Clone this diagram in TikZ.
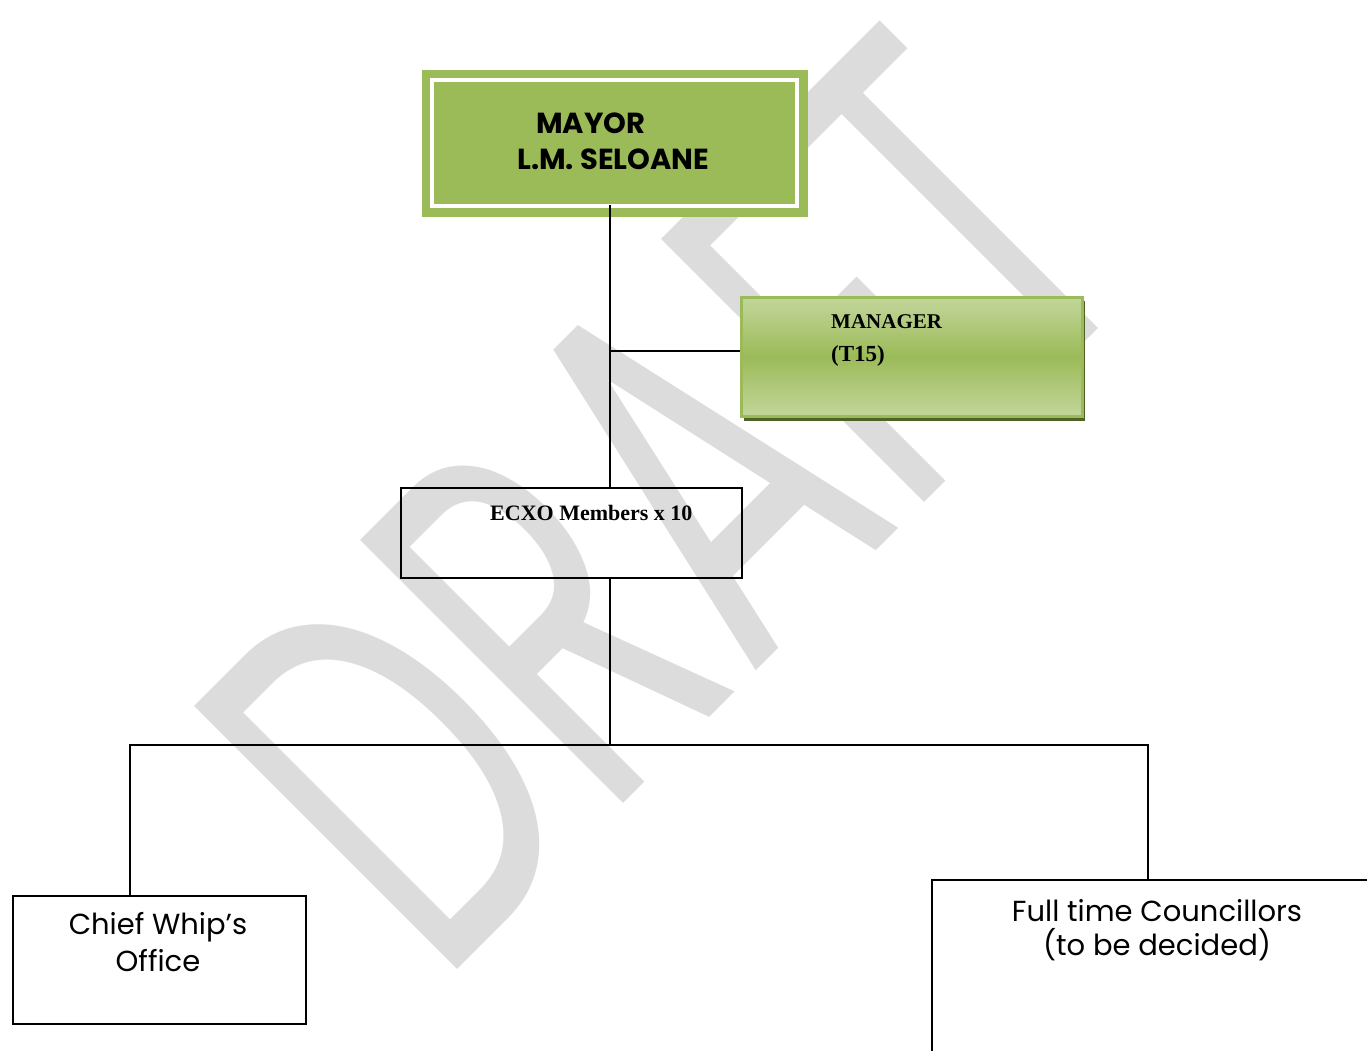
\documentclass[tikz,border=0pt]{standalone}
\usepackage{fontspec}
\newfontfamily\gothic{Poppins}
\newfontfamily\cambr{Liberation Serif}
\definecolor{accgreen}{HTML}{9BBB59}
\definecolor{lightgreen}{HTML}{C3D69B}
\definecolor{shadowgreen}{HTML}{4F6228}
\definecolor{wmgray}{HTML}{DCDCDC}
\begin{document}
\begin{tikzpicture}[x=1pt,y=-1pt,
  conn/.style={line width=2pt, black},
  plainbox/.style={draw=black, line width=2.4pt, rectangle, inner sep=0pt},
  txt/.style={inner sep=0pt},
  gothictxt/.style={txt, font=\gothic\fontsize{29}{34}\selectfont},
  mayortxt/.style={txt, font=\gothic\bfseries\fontsize{29}{34}\selectfont},
  serifb/.style={txt, font=\cambr\bfseries\fontsize{21}{25}\selectfont}
]
\useasboundingbox (0,0) rectangle (1367,1051);
% watermark
\node[rotate=45, text=wmgray, inner sep=0pt] (wm) at (664,500) {\resizebox{1005pt}{372pt}{\gothic DRAFT}};

% Mayor
\node[fill=accgreen, minimum width=386pt, minimum height=147pt, inner sep=0pt, anchor=north west] (mayor) at (422,70) {};
\draw[white, line width=4pt] (432,80) rectangle (797,206);
\node[mayortxt, anchor=base west] (mayorA) at (536,134) {MAYOR};
\node[mayortxt, anchor=base west] (mayorB) at (517,170) {L.M. SELOANE};

% Manager
\fill[shadowgreen] (744,301) rectangle (1085,421);
\node[anchor=north west, minimum width=341pt, minimum height=119pt, inner sep=0pt,
      draw=accgreen, line width=2.5pt, top color=lightgreen, bottom color=lightgreen, middle color=accgreen] (manager) at (740,296) {};
\node[serifb, anchor=base west] (mgrA) at (831,328.5) {MANAGER};
\node[serifb, font=\cambr\bfseries\fontsize{23}{27}\selectfont, anchor=base west] (mgrB) at (831,361) {(T15)};

% ECXO
\node[plainbox, line width=2pt, anchor=north west, minimum width=341pt, minimum height=90pt] (ecxo) at (400,487) {};
\node[serifb, font=\cambr\bfseries\fontsize{22}{26}\selectfont, anchor=base west] (ecxoA) at (490,520) {ECXO Members x 10};

% Chief whip
\node[plainbox, anchor=north west, minimum width=293pt, minimum height=128pt] (chief) at (12,895) {};
\node[gothictxt, anchor=base] (chiefA) at (158,934) {Chief Whip’s};
\node[gothictxt, anchor=base] (chiefB) at (158,971.5) {Office};

% Full time councillors
\node[plainbox, anchor=north west, minimum width=452pt, minimum height=200pt] (full) at (931,879) {};
\node[gothictxt, anchor=base] (fullA) at (1157,921) {Full time Councillors};
\node[gothictxt, anchor=base] (fullB) at (1157,955) {(to be decided)};

% connectors
\coordinate (tx) at (610,0);
\coordinate (mtop) at (610,205);
\coordinate (mj) at (610,351);
\coordinate (bj) at (610,745);
\coordinate (lj) at (130,745);
\coordinate (rj) at (1148,745);
\draw[conn] (mtop) -- (ecxo.north -| tx);
\draw[conn] (mj) -- (mj -| manager.west);
\draw[conn] (ecxo.south -| tx) -- (bj);
\draw[conn] (chief.north -| lj) -- (lj) -- (rj) -- (rj |- full.north);
\end{tikzpicture}
\end{document}
